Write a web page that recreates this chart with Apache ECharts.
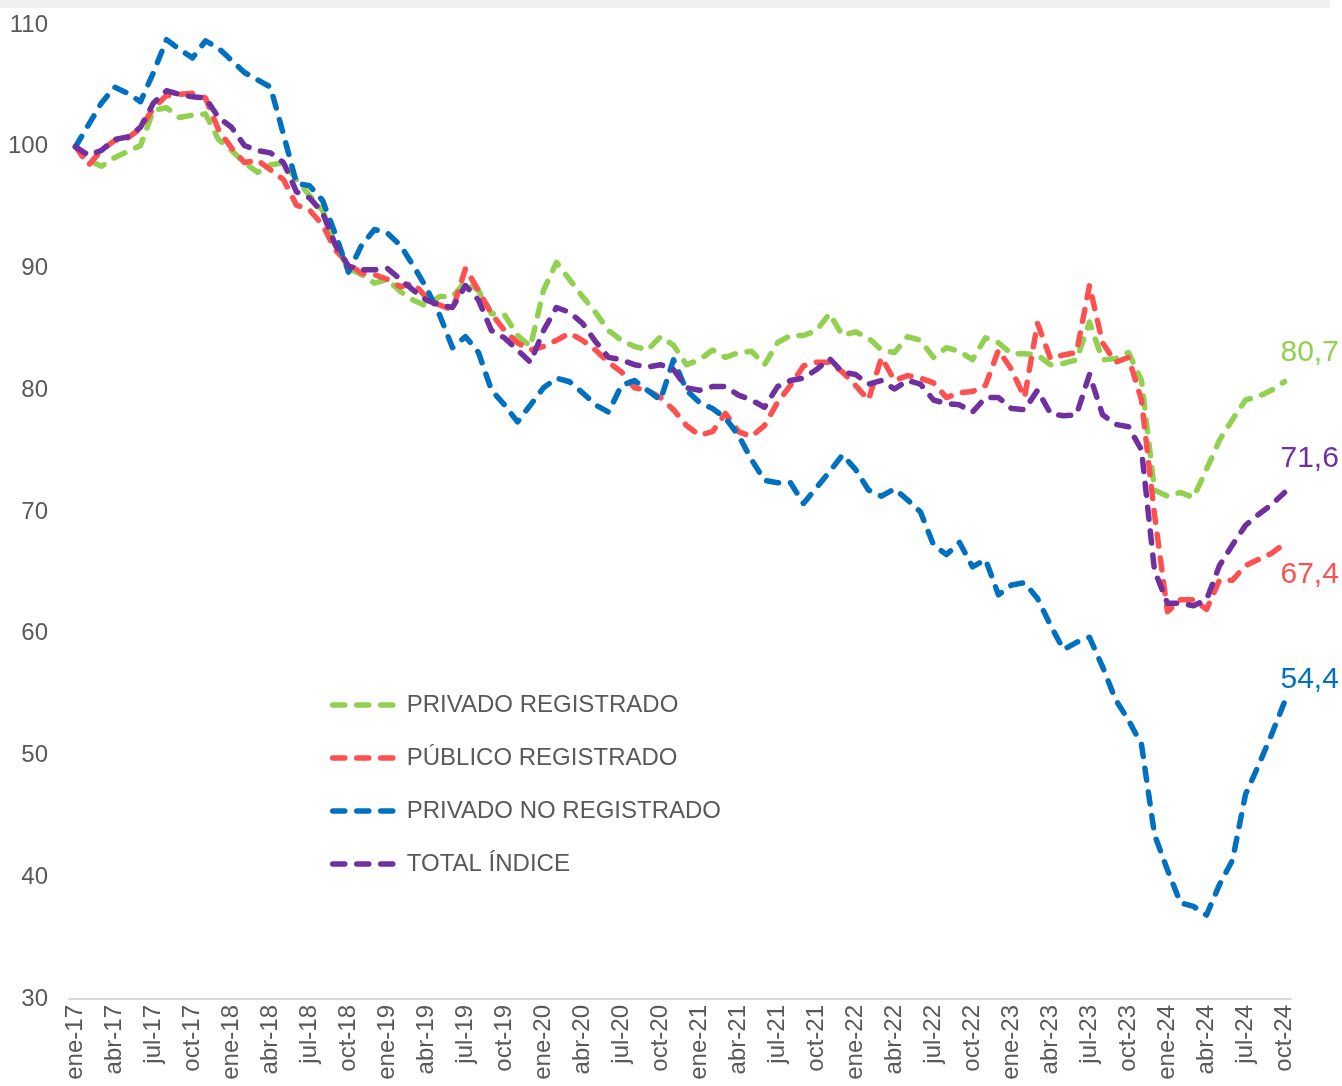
<!DOCTYPE html>
<html>
<head>
<meta charset="utf-8">
<script src="https://cdn.jsdelivr.net/npm/echarts@6/dist/echarts.min.js"></script>
<style>
html,body{margin:0;padding:0;background:#fff;}
#chart{width:1342px;height:1086px;}
</style>
</head>
<body>
<div id="chart"></div>
<script>
const categories = [
'ene-17','feb-17','mar-17','abr-17','may-17','jun-17','jul-17','ago-17','sep-17','oct-17','nov-17','dic-17',
'ene-18','feb-18','mar-18','abr-18','may-18','jun-18','jul-18','ago-18','sep-18','oct-18','nov-18','dic-18',
'ene-19','feb-19','mar-19','abr-19','may-19','jun-19','jul-19','ago-19','sep-19','oct-19','nov-19','dic-19',
'ene-20','feb-20','mar-20','abr-20','may-20','jun-20','jul-20','ago-20','sep-20','oct-20','nov-20','dic-20',
'ene-21','feb-21','mar-21','abr-21','may-21','jun-21','jul-21','ago-21','sep-21','oct-21','nov-21','dic-21',
'ene-22','feb-22','mar-22','abr-22','may-22','jun-22','jul-22','ago-22','sep-22','oct-22','nov-22','dic-22',
'ene-23','feb-23','mar-23','abr-23','may-23','jun-23','jul-23','ago-23','sep-23','oct-23','nov-23','dic-23',
'ene-24','feb-24','mar-24','abr-24','may-24','jun-24','jul-24','ago-24','sep-24','oct-24'
];

const privadoRegistrado = [100,98.9,98.4,99.1,99.6,100.1,103.0,103.2,102.4,102.6,
102.7,100.6,99.7,98.7,97.9,98.5,98.7,97.3,96.0,94.8,
91.9,90.0,89.5,88.8,89.1,88.1,87.4,86.9,87.7,87.7,
88.9,88.2,86.3,86.2,84.5,83.6,88.2,90.5,89.1,87.7,
86.4,84.9,84.1,83.6,83.3,84.4,83.7,82.1,82.5,83.3,
82.7,83.1,83.2,82.1,83.9,84.5,84.5,84.9,86.3,84.5,
84.8,84.3,83.3,83.1,84.4,84.1,82.7,83.5,83.2,82.5,
84.3,83.9,83.0,83.0,82.9,82.1,82.2,82.5,85.6,82.5,
82.6,83.1,80.8,71.8,71.3,71.6,71.2,73.5,75.9,77.6,
79.2,79.5,80.0,80.7];

const publicoRegistrado = [100,98.5,99.7,100.5,100.7,101.5,103.2,104.2,104.3,104.4,
104.0,101.4,99.9,98.7,98.9,98.1,97.3,95.2,94.8,93.6,
91.5,90.4,89.6,89.5,89.1,88.5,88.8,87.6,87.0,86.6,
90.0,88.2,86.3,84.9,83.9,83.3,83.6,84.1,84.7,84.1,
83.3,82.3,81.5,80.2,80.0,79.4,78.4,77.1,76.3,76.6,
78.1,76.6,76.2,77.1,79.0,80.4,82.0,82.3,82.3,81.5,
80.4,79.2,82.7,80.8,81.2,81.0,80.6,79.4,79.8,79.9,
80.4,83.3,81.7,79.4,85.5,82.6,82.9,83.1,88.6,83.9,
82.3,82.7,79.2,69.8,61.8,62.8,62.8,62.0,64.4,64.4,
65.6,66.1,66.6,67.4];

const privadoNoRegistrado = [100,101.8,103.6,104.9,104.4,103.7,106.1,108.8,108.0,107.3,
108.7,108.1,107.1,106.1,105.5,104.9,101.0,97.0,96.8,95.6,
92.8,89.7,91.9,93.2,92.9,91.9,90.2,88.4,86.2,83.5,
84.4,83.1,80.0,78.8,77.4,78.8,80.2,81.0,80.7,79.8,
78.8,78.2,80.4,80.8,80.0,79.2,82.5,80.0,79.0,78.5,
77.7,76.3,74.3,72.6,72.4,72.4,70.7,72.0,73.3,74.7,
73.5,71.8,71.3,71.9,71.0,70.0,67.3,66.5,67.5,65.5,
66.1,63.2,64.0,64.2,62.9,60.7,58.7,59.3,59.7,57.3,
54.6,52.9,50.9,43.5,40.6,37.9,37.6,36.9,39.4,41.4,
46.8,49.2,51.7,54.4];

const totalIndice = [100,99.3,99.7,100.6,100.8,101.6,103.6,104.6,104.3,104.1,
104.0,102.4,101.6,100.1,99.7,99.5,98.7,96.3,95.8,94.6,
91.9,90.2,89.9,89.9,90.0,89.1,88.2,87.4,87.0,86.8,
88.6,87.4,84.9,84.3,83.3,82.3,84.9,86.8,86.4,85.5,
84.0,82.7,82.5,82.1,81.9,82.1,81.7,80.2,80.0,80.3,
80.3,79.6,79.2,78.6,80.3,80.8,81.0,81.7,82.6,81.5,
81.3,80.5,80.8,80.1,80.8,80.5,79.2,78.9,78.8,78.2,
79.4,79.4,78.5,78.4,80.0,78.1,77.9,78.0,81.3,78.0,
77.2,77.0,75.1,65.2,62.5,62.5,62.3,62.8,65.6,67.3,
68.9,69.8,70.6,71.6];

const seriesNames = ['PRIVADO REGISTRADO','PÚBLICO REGISTRADO','PRIVADO NO REGISTRADO','TOTAL ÍNDICE'];
const seriesColors = ['#92D050','#FF5050','#0070C0','#7030A0'];
const seriesData = [privadoRegistrado, publicoRegistrado, privadoNoRegistrado, totalIndice];
const endOffsets = [[-12,-29],[-12,31],[-12,-22],[-12,-34]];

const FONT = "'Liberation Sans', Arial, sans-serif";
const chart = echarts.init(document.getElementById('chart'), null, {renderer:'canvas'});

const option = {
  animation: false,
  backgroundColor: '#ffffff',
  textStyle: {fontFamily: FONT},
  graphic: [{type:'rect', left:0, top:0, shape:{width:1330, height:8}, style:{fill:'#f0f0f0'}, silent:true}],
  grid: {left: 69, right: 51, top: 25, bottom: 87, containLabel: false},
  legend: {
    orient: 'vertical',
    left: 330,
    top: 693,
    padding: 0,
    itemWidth: 67,
    itemHeight: 14,
    itemGap: 29,
    itemStyle: {opacity: 0},
    lineStyle: {width: 5.5, type: [12, 12], cap: 'round'},
    textStyle: {fontSize: 24, color: '#595959', fontFamily: FONT, lineHeight: 24, padding:[0,0,0,2]},
    data: seriesNames
  },
  xAxis: {
    type: 'category',
    data: categories,
    boundaryGap: true,
    axisLine: {show: true, lineStyle: {color: '#d9d9d9', width: 2}},
    axisTick: {show: false},
    axisLabel: {interval: 2, rotate: 90, fontSize: 24, color: '#595959', fontFamily: FONT, margin: 6}
  },
  yAxis: {
    type: 'value',
    min: 30, max: 110, interval: 10,
    axisLine: {show: false},
    axisTick: {show: false},
    splitLine: {show: false},
    axisLabel: {fontSize: 24, color: '#595959', fontFamily: FONT, margin: 21}
  },
  series: seriesNames.map((name, k) => ({
    name: name,
    type: 'line',
    data: seriesData[k],
    showSymbol: false,
    symbol: 'none',
    color: seriesColors[k],
    lineStyle: {color: seriesColors[k], width: 5.5, type: [12, 12], cap: 'round', join: 'round'},
    endLabel: {
      show: true,
      formatter: p => String(p.value.toFixed ? p.value.toFixed(1) : p.value).replace('.', ','),
      color: seriesColors[k],
      fontSize: 30,
      fontFamily: FONT,
      offset: endOffsets[k]
    },
    z: 2 + k
  }))
};
chart.setOption(option);
</script>
</body>
</html>
